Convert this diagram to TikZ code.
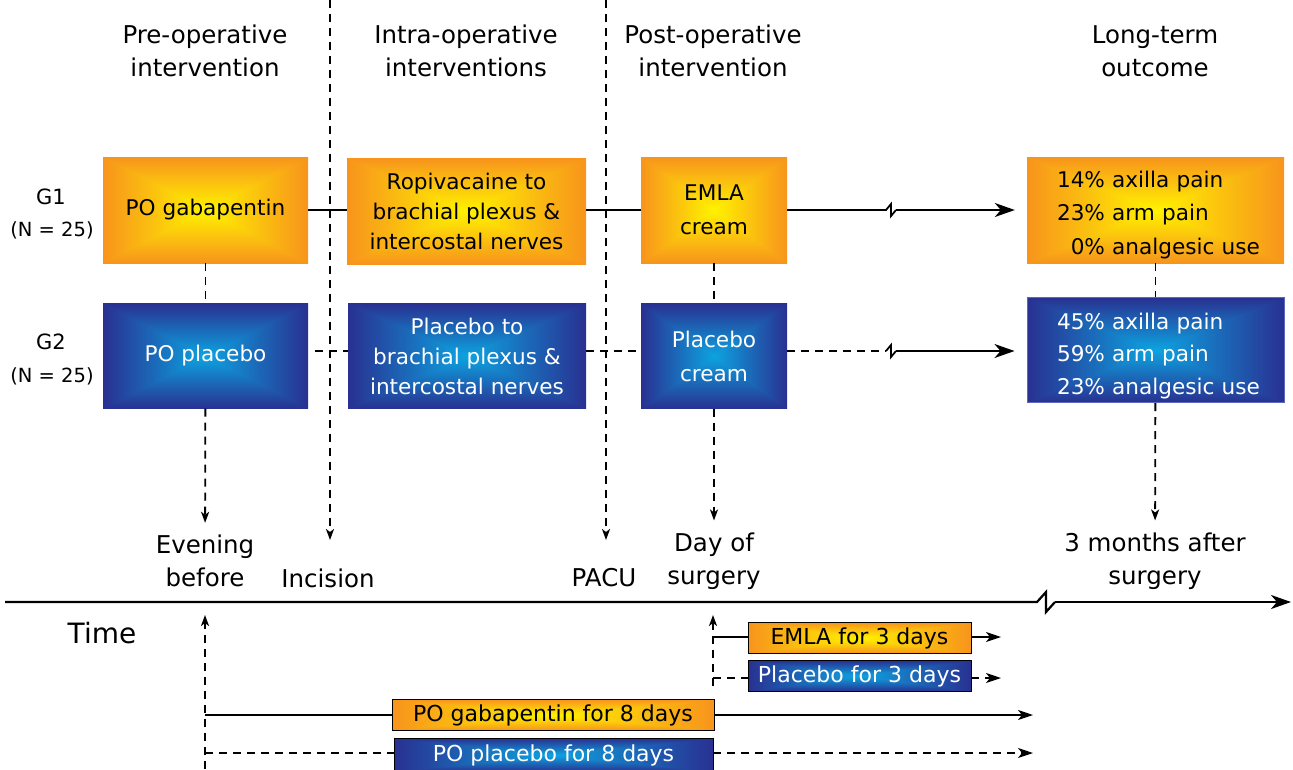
\documentclass[tikz,border=0pt]{standalone}
\usepackage{fontspec}
\setmainfont{DejaVu Sans}
\usetikzlibrary{arrows.meta}

% box-shaped gradients (centre colour -> edge colour)
\pgfdeclarefunctionalshading{orangebox}{\pgfpoint{-50bp}{-50bp}}{\pgfpoint{50bp}{50bp}}{}{
  abs exch abs 2 copy lt {exch} if pop 25 div dup 1 gt {pop 1} if
  dup -0.03 mul 1 add exch dup -0.37 mul 0.95 add exch 0.11 mul
}
\pgfdeclarefunctionalshading{bluebox}{\pgfpoint{-50bp}{-50bp}}{\pgfpoint{50bp}{50bp}}{}{
  abs exch abs 2 copy lt {exch} if pop 25 div dup 1 gt {pop 1} if
  dup 0.11 mul 0.05 add exch dup -0.45 mul 0.64 add exch -0.31 mul 0.88 add
}
\definecolor{blueedge}{RGB}{90,105,190}

\begin{document}
\begin{tikzpicture}
    \def\dx{1pt}
    \def\dy{1pt}
    \useasboundingbox (0,0) rectangle (1293*\dx,-769*\dy);

    \tikzstyle{head}=[align=center,inner sep=0pt,font=\fontsize{24.5}{33}\selectfont]
    \tikzstyle{grp}=[inner sep=0pt,font=\fontsize{21}{24}\selectfont]
    \tikzstyle{grpn}=[inner sep=0pt,font=\fontsize{19.5}{22}\selectfont]
    \tikzstyle{g1}=[shading=orangebox,align=center,minimum height=106pt,inner sep=0pt,font=\fontsize{21.6}{30}\selectfont]
    \tikzstyle{g2}=[shading=bluebox,text=white,align=center,minimum height=105pt,inner sep=0pt,font=\fontsize{21.6}{30}\selectfont]
    \tikzstyle{tick}=[align=center,inner sep=0pt,font=\fontsize{24.5}{33}\selectfont]
    \tikzstyle{g1bar}=[shading=orangebox,draw=black,line width=0.8pt,minimum height=31pt,inner sep=0pt,font=\fontsize{22}{24}\selectfont]
    \tikzstyle{g2bar}=[shading=bluebox,text=white,draw=black,line width=0.8pt,minimum height=31pt,inner sep=0pt,font=\fontsize{22}{24}\selectfont]

    % column headings
    \node[head] (hpre) at (205*\dx,-51*\dy) {Pre-operative\\intervention};
    \node[head] (hintra) at (466*\dx,-51*\dy) {Intra-operative\\interventions};
    \node[head] (hpost) at (713*\dx,-51*\dy) {Post-operative\\intervention};
    \node[head] (hlong) at (1155*\dx,-51*\dy) {Long-term\\outcome};

    % groups
    \node[grp] (g1lab) at (51*\dx,-197*\dy) {G1};
    \node[grpn] (g1n) at (52*\dx,-230*\dy) {(N = 25)};
    \node[grp] (g2lab) at (51*\dx,-342*\dy) {G2};
    \node[grpn] (g2n) at (52*\dx,-376*\dy) {(N = 25)};

    % interventions
    \node[g1,minimum width=205pt] (pogab) at (205.5*\dx,-210*\dy) {PO gabapentin};
    \node[g2,minimum width=205pt] (poplac) at (205.5*\dx,-356*\dy) {PO placebo};
    \node[g1,minimum width=239pt] (ropi) at (466.5*\dx,-211*\dy) {Ropivacaine to\\brachial plexus \&\\intercostal nerves};
    \node[g2,minimum width=238pt] (plcnerve) at (467*\dx,-356*\dy) {Placebo to\\brachial plexus \&\\intercostal nerves};
    \node[g1,minimum width=146pt,font=\fontsize{21.6}{34}\selectfont] (emla) at (714*\dx,-210*\dy) {EMLA\\cream};
    \node[g2,minimum width=146pt,font=\fontsize{21.6}{34}\selectfont] (plccream) at (714*\dx,-356*\dy) {Placebo\\cream};
    \node[g1,minimum width=257pt,text width=197pt,align=left,font=\fontsize{21.6}{33.5}\selectfont] (out1) at (1155.5*\dx,-210*\dy)
        {\mbox{\rule{0pt}{26pt}14\% axilla pain}\\\mbox{23\% arm pain}\\\mbox{\phantom{1}0\% analgesic use}};
    \node[g2,minimum width=257pt,text width=197pt,align=left,font=\fontsize{21.6}{32.5}\selectfont,draw=blueedge,line width=1pt] (out2) at (1155.5*\dx,-350*\dy)
        {\mbox{\rule{0pt}{28pt}45\% axilla pain}\\\mbox{59\% arm pain}\\\mbox{23\% analgesic use}};

    % time points
    \node[tick] (evening) at (205*\dx,-561*\dy) {Evening\\before};
    \node[tick] (incision) at (328*\dx,-578*\dy) {Incision};
    \node[tick] (pacu) at (604*\dx,-578*\dy) {PACU};
    \node[tick] (daysurg) at (714*\dx,-561*\dy) {Day of\\surgery};
    \node[tick] (threem) at (1155*\dx,-561*\dy) {3 months after\\surgery};
    \node[inner sep=0pt,font=\fontsize{28}{30}\selectfont] (time) at (102*\dx,-633*\dy) {Time};

    % take-home medication
    \node[g1bar,minimum width=223pt] (emla3) at (859.5*\dx,-638*\dy) {EMLA for 3 days};
    \node[g2bar,minimum width=223pt] (plc3) at (859.5*\dx,-676*\dy) {Placebo for 3 days};
    \node[g1bar,minimum width=322pt] (gab8) at (553*\dx,-715*\dy) {PO gabapentin for 8 days};
    \node[g2bar,minimum width=319pt,minimum height=33pt] (plc8) at (553.5*\dx,-755*\dy) {PO placebo for 8 days};

    \coordinate (inctop) at (330*\dx,0);
    \coordinate (incend) at (330*\dx,-540*\dy);
    \coordinate (pacutop) at (606*\dx,0);
    \coordinate (pacuend) at (606*\dx,-540*\dy);
    \coordinate (brk1a) at (886*\dx,-210*\dy);
    \coordinate (brk1b) at (896*\dx,-210*\dy);
    \coordinate (brk2a) at (886*\dx,-351*\dy);
    \coordinate (brk2b) at (896*\dx,-351*\dy);
    \coordinate (axleft) at (5*\dx,-602*\dy);
    \coordinate (axbrka) at (1037*\dx,-602*\dy);
    \coordinate (axbrkb) at (1055*\dx,-602*\dy);
    \coordinate (axright) at (1291*\dx,-602*\dy);
    \coordinate (evlow) at (205*\dx,-769*\dy);
    \coordinate (evhigh) at (205*\dx,-615*\dy);
    \coordinate (gabstart) at (205*\dx,-715*\dy);
    \coordinate (gabend) at (1033*\dx,-715*\dy);
    \coordinate (plcstart) at (205*\dx,-753*\dy);
    \coordinate (plcend) at (1033*\dx,-753*\dy);
    \coordinate (daylow) at (713*\dx,-686*\dy);
    \coordinate (dayhigh) at (713*\dx,-615*\dy);
    \coordinate (emlastart) at (713*\dx,-637*\dy);
    \coordinate (emlaend) at (1001*\dx,-637*\dy);
    \coordinate (plc3start) at (713*\dx,-678*\dy);
    \coordinate (plc3end) at (1001*\dx,-678*\dy);

    \tikzstyle{fwd} = [draw=black, line width=1.8pt]
    \tikzstyle{dsh} = [draw=black, line width=1.8pt, dash pattern=on 8pt off 6pt]
    \tikzstyle{bigtip} = [-{Stealth[length=20pt,width=14pt,inset=6pt]}]
    \tikzstyle{midtip} = [-{Stealth[length=15pt,width=10pt,inset=4pt]}]
    \tikzstyle{smalltip} = [-{Stealth[length=11pt,width=8pt,inset=3pt]}]

          % phase separators
          \draw [dsh,smalltip] (inctop) -- (incend);
          \draw [dsh,smalltip] (pacutop) -- (pacuend);

          % group 1
          \draw [fwd] (pogab) -- (pogab -| ropi.west);
          \draw [fwd] (pogab -| ropi.east) -- (emla);
          \draw [fwd] (emla) -- (brk1a) -- (891*\dx,-204*\dy) -- (891*\dx,-216*\dy) -- (brk1b);
          \draw [fwd,bigtip,shorten >=12pt] (brk1b) -- (out1);

          % group 2
          \draw [dsh,shorten <=7pt] (poplac.east |- brk2a) -- (plcnerve.west |- brk2a);
          \draw [dsh] (plcnerve.east |- brk2a) -- (plccream.west |- brk2a);
          \draw [dsh] (plccream.east |- brk2a) -- (brk2a);
          \draw [fwd] (brk2a) -- (891*\dx,-345*\dy) -- (891*\dx,-357*\dy) -- (brk2b);
          \draw [fwd,bigtip,shorten >=12pt] (brk2b) -- (out2.west |- brk2b);

          % down to the time points
          \draw [dsh] (pogab) -- (poplac);
          \draw [dsh,smalltip,shorten >=12pt] (poplac) -- (evening);
          \draw [dsh] (emla) -- (plccream);
          \draw [dsh,smalltip,shorten >=12pt] (plccream.south -| daysurg) -- (daysurg);
          \draw [dsh] (out1) -- (out2);
          \draw [dsh,smalltip,shorten >=12pt] (out2) -- (threem);

          % time axis
          \draw [fwd,line width=2.2pt] (axleft) -- (axbrka) -- (1046*\dx,-592*\dy) -- (1046*\dx,-612*\dy) -- (axbrkb);
          \draw [fwd,line width=2.2pt,bigtip] (axbrkb) -- (axright);

          % medication after surgery
          \draw [dsh,smalltip] (evlow) -- (evhigh);
          \draw [fwd] (gabstart) -- (gab8);
          \draw [fwd,midtip] (gab8) -- (gabend);
          \draw [dsh] (plcstart) -- (plc8.west |- plcstart);
          \draw [dsh,midtip] (plc8.east |- plcstart) -- (plcend);
          \draw [dsh,smalltip] (daylow) -- (dayhigh);
          \draw [fwd] (emlastart) -- (emla3.west |- emlastart);
          \draw [fwd,midtip] (emla3.east |- emlastart) -- (emlaend);
          \draw [dsh] (plc3start) -- (plc3.west |- plc3start);
          \draw [dsh,midtip] (plc3.east |- plc3start) -- (plc3end);

  \end{tikzpicture}
\end{document}
